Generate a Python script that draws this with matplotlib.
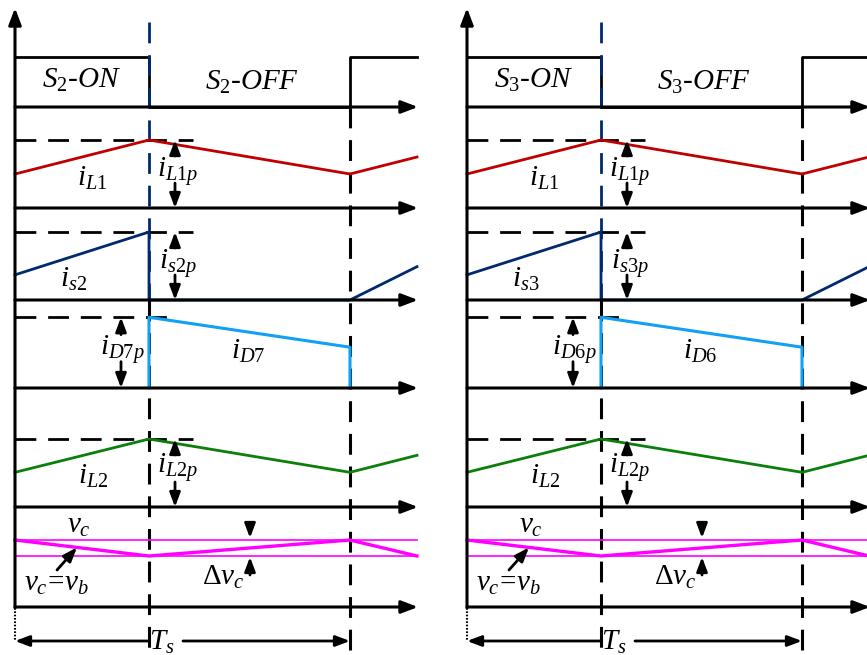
import numpy as np
import matplotlib
matplotlib.use('Agg')
import matplotlib.pyplot as plt

plt.rcParams['font.family'] = 'Liberation Serif'
plt.rcParams['mathtext.fontset'] = 'custom'
plt.rcParams['mathtext.rm'] = 'Liberation Serif'
plt.rcParams['mathtext.it'] = 'Liberation Serif:italic'
plt.rcParams['lines.scale_dashes'] = False

# time in units of the switching period Ts
duty = 0.4
t_end = 1.2

t_tri = [0.0, duty, 1.0, t_end]

gate_t = [0.0, duty, duty, 1.0, 1.0, t_end]
gate_v = [1, 1, 0, 0, 1, 1]

iL1 = [0.5, 1.0, 0.5, 0.75]

is_t = [0.0, duty, duty, 1.0, t_end]
is_v = [0.37, 1.0, 0.0, 0.0, 0.49]

iD_t = [duty, duty, 1.0, 1.0]
iD_v = [0.0, 1.04, 0.6, 0.0]

iL2 = [0.51, 1.0, 0.51, 0.76]

vc_hi = 0.985
vc_lo = 0.75
vc = [vc_hi, vc_lo, vc_hi, vc_lo]

switch_no = ['2', '3']
switch_cur = ['s2', 's3']
diode = ['D7', 'D6']

# layout (pixels)
W, H = 867, 655
X0 = 15
PX_T = 335.0
PANEL_DX = 452
ROW = [107, 208, 300, 388, 507, 607]
AMP = 68
GATE_H = 50
AX_END = 1.203

RED = '#C00000'
NAVY = '#002A6E'
LBLUE = '#12A0F5'
GREEN = '#0A800A'
MAG = '#FF00FF'

FS = 21
DASH = (0, (15, 8.5))

fig = plt.figure(figsize=(W / 100, H / 100), dpi=100)
ax = fig.add_axes([0, 0, 1, 1])
ax.set_xlim(-X0 / PX_T, (W - X0) / PX_T)
ax.set_ylim(H, 0)
ax.axis('off')


def X(px):
    return (px - X0) / PX_T


def arrow(p_from, p_to, lw=2.0, hl=0.85, hw=0.32):
    ax.annotate('', xy=p_to, xytext=p_from, annotation_clip=False,
                arrowprops=dict(arrowstyle='-|>,head_length=%s,head_width=%s' % (hl, hw),
                                lw=lw, color='k', shrinkA=0, shrinkB=0))


def peak_arrow(o, xpx, base, peak):
    mid = (base + peak) / 2
    arrow((o + X(xpx), mid - 18), (o + X(xpx), peak))
    arrow((o + X(xpx), mid + 9), (o + X(xpx), base))


def lab(o, xpx, ypx, s, fs=FS):
    ax.text(o + X(xpx), ypx, s, ha='center', va='center', fontsize=fs)


for k in range(2):
    o = k * PANEL_DX / PX_T
    sw, sc, dd = switch_no[k], switch_cur[k], diode[k]

    # axes
    arrow((o, 608), (o, 8), lw=2.2, hl=1.0, hw=0.38)
    for b in ROW:
        arrow((o, b), (o + AX_END, b), lw=2.2, hl=1.0, hw=0.38)
    ax.plot([o, o], [608, 641], color='k', ls=(0, (1.2, 1.2)), lw=1.5)

    # gate signal
    ax.plot(o + np.array(gate_t), ROW[0] - np.array(gate_v) * GATE_H, color='k', lw=2)

    # switching instants
    ax.plot([o + duty, o + duty], [22, ROW[2]], color=NAVY, lw=2, ls=DASH)
    ax.plot([o + duty, o + duty], [ROW[2], 650], color='k', lw=2.2, ls=DASH)
    ax.plot([o + 1, o + 1], [ROW[0], 650], color='k', lw=2.2, ls=DASH)

    # peak reference lines
    for b, pk, xe in [(ROW[1], max(iL1), 193), (ROW[2], max(is_v), 193),
                      (ROW[3], max(iD_v), 170), (ROW[4], max(iL2), 193)]:
        ax.plot([o, o + X(xe)], [b - pk * AMP] * 2, color='k', lw=2, ls=DASH)

    # waveforms
    ax.plot(o + np.array(t_tri), ROW[1] - np.array(iL1) * AMP, color=RED, lw=2)
    ax.plot(o + np.array(is_t), ROW[2] - np.array(is_v) * AMP, color=NAVY, lw=2)
    ax.plot(o + np.array(iD_t), ROW[3] - np.array(iD_v) * AMP, color=LBLUE, lw=2.2)
    ax.plot(o + np.array(t_tri), ROW[4] - np.array(iL2) * AMP, color=GREEN, lw=2)
    ax.plot([o, o + t_end], [ROW[5] - vc_hi * AMP] * 2, color=MAG, lw=1.2)
    ax.plot([o, o + t_end], [ROW[5] - vc_lo * AMP] * 2, color=MAG, lw=1.2)
    ax.plot(o + np.array(t_tri), ROW[5] - np.array(vc) * AMP, color=MAG, lw=2.4)

    # peak annotations
    peak_arrow(o, 175, ROW[1], ROW[1] - max(iL1) * AMP)
    peak_arrow(o, 175, ROW[2], ROW[2] - max(is_v) * AMP)
    peak_arrow(o, 121, ROW[3], ROW[3] - max(iD_v) * AMP)
    peak_arrow(o, 175, ROW[4], ROW[4] - max(iL2) * AMP)

    # ripple of vc
    y_hi = ROW[5] - vc_hi * AMP
    y_lo = ROW[5] - vc_lo * AMP
    arrow((o + X(250), y_hi - 17), (o + X(250), y_hi - 2))
    arrow((o + X(250), y_lo + 19), (o + X(250), y_lo + 1))
    t_tip = X(77)
    arrow((o + X(57), 570), (o + t_tip, ROW[5] - np.interp(t_tip, t_tri, vc) * AMP))

    # period
    arrow((o + duty, 641), (o, 641))
    arrow((o + X(183), 641), (o + 1, 641))

    # labels
    lab(o, 81, 80, r'$S_{%s}$-$ON$' % sw)
    lab(o, 252, 82, r'$S_{%s}$-$OFF$' % sw)
    lab(o, 92, 178, r'$i_{\mathit{L1}}$')
    lab(o, 178, 171, r'$i_{\mathit{L1p}}$')
    lab(o, 74, 279, r'$i_{\mathit{%s}}$' % sc)
    lab(o, 178, 263, r'$i_{\mathit{%sp}}$' % sc)
    lab(o, 122, 349, r'$i_{\mathit{%sp}}$' % dd)
    lab(o, 248, 351, r'$i_{\mathit{%s}}$' % dd)
    lab(o, 93, 476, r'$i_{\mathit{L2}}$')
    lab(o, 178, 468, r'$i_{\mathit{L2p}}$')
    lab(o, 79, 526, r'$v_c$')
    lab(o, 57, 584, r'$v_c\!=\!v_b$')
    lab(o, 223, 577, r'$\Delta v_c$')
    lab(o, 162, 642, r'$T_s$')

fig.savefig('out.png', dpi=100)
